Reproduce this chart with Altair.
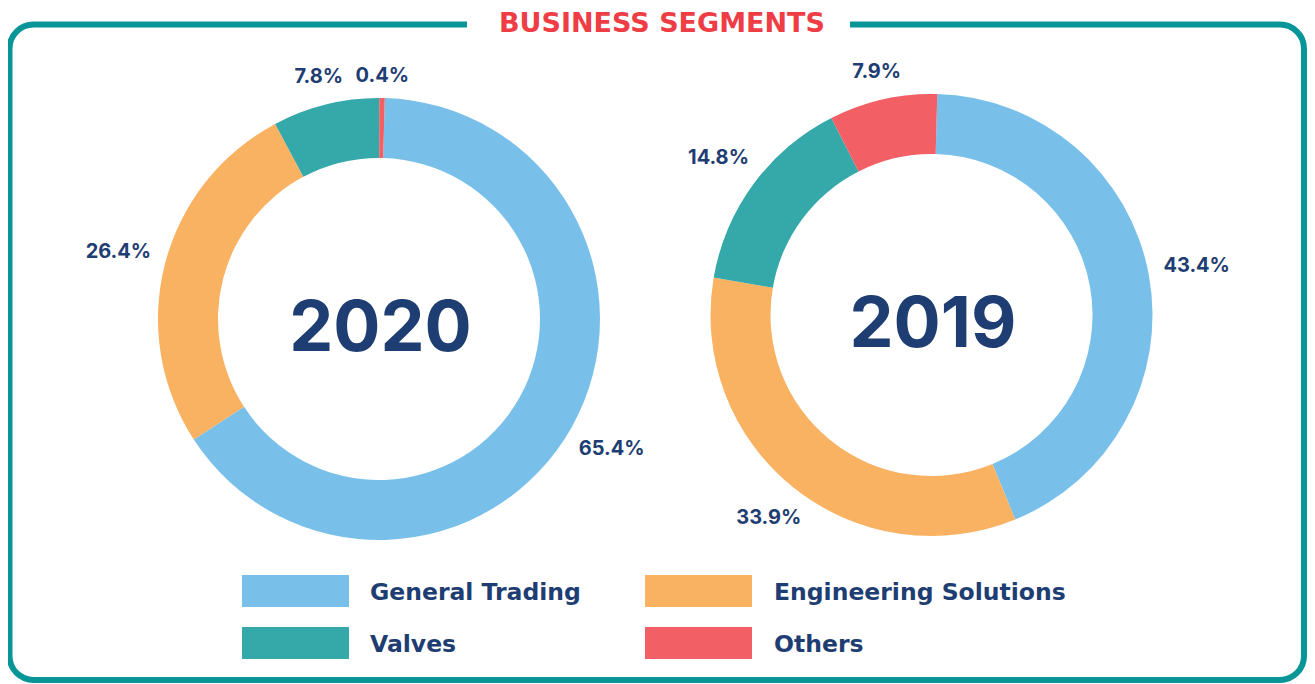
import math
import altair as alt
import pandas as pd

# ---------------- data ----------------
categories = ["General Trading", "Engineering Solutions", "Valves", "Others"]
colors = ["#78C0EA", "#F9B262", "#35A8A9", "#F26065"]
share_2020 = [65.4, 26.4, 7.8, 0.4]
share_2019 = [43.4, 33.9, 14.8, 7.9]
years = ["2020", "2019"]
title_text = ["BUSINESS SEGMENTS"]

# ---------------- style ----------------
NAVY = "#1E3D72"
TEAL = "#089597"
RED = "#EE3D45"
FONT = "Inter"
WIDE = "DejaVu Sans"
W, H = 1299, 676

color_scale = alt.Scale(domain=categories, range=colors)
rot = math.radians(1.5)
theta_scale = alt.Scale(domain=[0, 100], range=[rot, rot + 2 * math.pi])


def donut(values, year, cx, cy):
    total = sum(values)
    cum = 0.0
    mids, radii = [], []
    for v in values:
        m = (cum + v / 2) * 100.0 / total
        ang = rot + 2 * math.pi * m / 100.0
        mids.append(m)
        radii.append(243 + 27 * abs(math.sin(ang)))
        cum += v
    df = pd.DataFrame({
        "segment": categories,
        "share": values,
        "order": list(range(len(categories))),
        "label": [f"{v:.1f}%" for v in values],
        "mid": mids,
        "r": radii,
    })
    arc = alt.Chart(df).mark_arc(innerRadius=161, outerRadius=221, x=cx, y=cy).encode(
        theta=alt.Theta("share:Q", stack=True, scale=theta_scale),
        order=alt.Order("order:Q"),
        color=alt.Color("segment:N", scale=color_scale, legend=None),
    )
    lab = alt.Chart(df).mark_text(
        x=cx, y=cy, font=FONT, fontSize=20, fontWeight="bold",
        color=NAVY, align="center", baseline="middle"
    ).encode(
        theta=alt.Theta("mid:Q", stack=None, scale=theta_scale),
        radius=alt.Radius("r:Q", scale=None),
        text="label:N",
    )
    center = alt.Chart(pd.DataFrame({"year": [year]})).mark_text(
        x=cx + 1.5, y=cy + 32, font=FONT, fontSize=70, fontWeight="bold",
        color=NAVY, align="center", baseline="alphabetic"
    ).encode(text="year:N")
    return [arc, lab, center]


one = pd.DataFrame({"k": [0]})

frame = alt.Chart(one).mark_rect(
    filled=False, stroke=TEAL, strokeWidth=6, cornerRadius=24
).encode(x=alt.value(1.5), x2=alt.value(1296), y=alt.value(16.5), y2=alt.value(672))

mask = alt.Chart(one).mark_rect(color="white").encode(
    x=alt.value(459), x2=alt.value(842), y=alt.value(6), y2=alt.value(28)
)

title = alt.Chart(pd.DataFrame({"t": title_text})).mark_text(
    x=654, y=24, font=WIDE, fontSize=27, fontWeight="bold", color=RED,
    align="center", baseline="alphabetic"
).encode(text="t:N")

leg = pd.DataFrame({
    "segment": categories,
    "col": [i % 2 for i in range(len(categories))],
    "row": [i // 2 for i in range(len(categories))],
})

leg_rect = alt.Chart(leg).mark_rect(width=107, height=32).encode(
    x=alt.X("col:Q", scale=alt.Scale(domain=[0, 1], range=[287.5, 690.5], nice=False, zero=False), axis=None),
    y=alt.Y("row:Q", scale=alt.Scale(domain=[0, 1], range=[583, 635], nice=False, zero=False), axis=None),
    color=alt.Color("segment:N", scale=color_scale, legend=None),
)
leg_text = alt.Chart(leg).mark_text(
    align="left", baseline="alphabetic", font=WIDE, fontSize=23.5, fontWeight="bold", color=NAVY
).encode(
    x=alt.X("col:Q", scale=alt.Scale(domain=[0, 1], range=[362, 766], nice=False, zero=False), axis=None),
    y=alt.Y("row:Q", scale=alt.Scale(domain=[0, 1], range=[592, 644], nice=False, zero=False), axis=None),
    text="segment:N",
)

layers = [frame, mask, title]
layers += donut(share_2020, years[0], 371, 311)
layers += donut(share_2019, years[1], 923.5, 307)
layers += [leg_rect, leg_text]

chart = alt.layer(*layers).resolve_scale(
    x="independent", y="independent"
).properties(
    width=W, height=H, padding=0, autosize="none", background="white"
).configure_view(stroke=None)

chart.save("out.html", embed_options={"renderer": "svg", "actions": False})
